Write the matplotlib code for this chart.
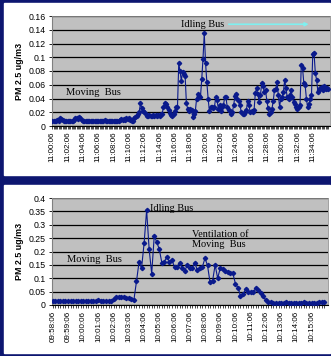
import numpy as np
import matplotlib
matplotlib.use("Agg")
import matplotlib.pyplot as plt

# PM 2.5 readings, one every 10 s
top_vals = [
    0.008, 0.008, 0.007, 0.008, 0.009, 0.008, 0.011, 0.010, 0.009, 0.008, 0.008, 0.008,
    0.007, 0.008, 0.008, 0.007, 0.008, 0.009, 0.011, 0.012, 0.010, 0.013, 0.011, 0.009,
    0.008, 0.008, 0.008, 0.007, 0.008, 0.008, 0.008, 0.007, 0.008, 0.008, 0.008, 0.007,
    0.008, 0.008, 0.008, 0.007, 0.008, 0.009, 0.008, 0.007, 0.008, 0.008, 0.008, 0.007,
    0.008, 0.008, 0.007, 0.008, 0.008, 0.009, 0.010, 0.009, 0.010, 0.009, 0.011, 0.010,
    0.011, 0.009, 0.008, 0.008, 0.011, 0.013, 0.015, 0.017, 0.020, 0.033, 0.026, 0.022,
    0.020, 0.018, 0.015, 0.014, 0.016, 0.015, 0.014, 0.016, 0.015, 0.016, 0.014, 0.016,
    0.015, 0.017, 0.018, 0.027, 0.033, 0.032, 0.028, 0.024, 0.019, 0.016, 0.015, 0.018,
    0.022, 0.028, 0.027, 0.091, 0.080, 0.066, 0.078, 0.076, 0.073, 0.033, 0.025, 0.022,
    0.025, 0.024, 0.013, 0.017, 0.022, 0.040, 0.046, 0.043, 0.042, 0.068, 0.098, 0.135,
    0.092, 0.064, 0.040, 0.022, 0.027, 0.027, 0.026, 0.028, 0.042, 0.038, 0.025, 0.030,
    0.022, 0.028, 0.030, 0.042, 0.042, 0.027, 0.024, 0.022, 0.018, 0.020, 0.030, 0.043,
    0.047, 0.040, 0.036, 0.030, 0.020, 0.017, 0.018, 0.020, 0.023, 0.037, 0.030, 0.020,
    0.022, 0.020, 0.023, 0.048, 0.055, 0.046, 0.035, 0.045, 0.062, 0.058, 0.050, 0.052,
    0.037, 0.026, 0.018, 0.020, 0.025, 0.036, 0.052, 0.054, 0.064, 0.045, 0.028, 0.040,
    0.042, 0.050, 0.067, 0.055, 0.042, 0.040, 0.045, 0.052, 0.042, 0.035, 0.032, 0.027,
    0.025, 0.027, 0.030, 0.089, 0.084, 0.062, 0.060, 0.040, 0.027, 0.032, 0.040, 0.045,
    0.105, 0.106, 0.077, 0.067, 0.050, 0.052, 0.055, 0.057, 0.053, 0.058, 0.054, 0.056,
    0.054,
]
top_labels = ["11:%02d:06" % m for m in range(0, 35, 2)]

bot_vals = [
    0.015, 0.016, 0.015, 0.015, 0.016, 0.015, 0.014, 0.015, 0.016, 0.016, 0.015, 0.016,
    0.015, 0.015, 0.014, 0.015, 0.015, 0.016, 0.018, 0.016, 0.015, 0.015, 0.015, 0.016,
    0.022, 0.030, 0.031, 0.029, 0.030, 0.028, 0.027, 0.021, 0.020, 0.088, 0.160, 0.138,
    0.230, 0.355, 0.208, 0.117, 0.258, 0.235, 0.208, 0.158, 0.162, 0.180, 0.162, 0.167,
    0.142, 0.143, 0.158, 0.140, 0.128, 0.148, 0.138, 0.140, 0.157, 0.130, 0.140, 0.143,
    0.175, 0.148, 0.085, 0.090, 0.150, 0.100, 0.137, 0.135, 0.127, 0.122, 0.120, 0.118,
    0.080, 0.065, 0.035, 0.040, 0.058, 0.050, 0.050, 0.048, 0.062, 0.055, 0.045, 0.032,
    0.018, 0.011, 0.010, 0.009, 0.009, 0.008, 0.008, 0.009, 0.010, 0.009, 0.008, 0.008,
    0.008, 0.009, 0.009, 0.010, 0.008, 0.008, 0.008, 0.009, 0.009, 0.011, 0.012, 0.010,
]
bot_labels = ["09:58:06", "09:59:06"] + ["10:%02d:06" % m for m in range(0, 16)]

navy = "#0d1670"
line_col = "#0a1a8c"
serif = "Liberation Serif"

fig = plt.figure(figsize=(3.31, 3.56), dpi=100, facecolor=navy)

# white panels behind the two charts
for y0, h in [(1 - 175 / 356, 172 / 356), (1 - 353 / 356, 168 / 356)]:
    fig.patches.append(plt.Rectangle((4 / 331, y0), 326 / 331, h,
                                     transform=fig.transFigure, color="white", zorder=-5))

ax1 = fig.add_axes([52 / 331, 1 - 126 / 356, 278 / 331, 110 / 356])
ax2 = fig.add_axes([52 / 331, 1 - 305 / 356, 276 / 331, 107 / 356])


def style(ax, vals, labels, step, ymax, ystep):
    x = np.arange(len(vals))
    ax.set_facecolor("#c0c0c0")
    ax.plot(x, vals, color=line_col, lw=0.8, marker="D", ms=2.2, zorder=3)
    ax.set_xlim(-0.3, len(vals) + 0.5)
    ax.set_ylim(0, ymax)
    yt = np.arange(0, ymax + ystep / 2, ystep)
    ax.set_yticks(yt)
    ax.set_yticklabels(["%g" % round(v, 3) for v in yt], fontsize=6.3,
                       family="Liberation Sans")
    ax.set_xticks(np.arange(0, len(labels) * step, step))
    ax.set_xticklabels(labels, rotation=90, fontsize=5.8, family="Liberation Sans")
    ax.set_xticks(x, minor=True)
    ax.tick_params(axis="x", which="both", length=2.5, width=0.5, pad=1.5)
    ax.tick_params(axis="y", length=2.5, width=0.6, pad=2)
    ax.grid(axis="y", color="black", lw=0.9)
    ax.set_axisbelow(True)
    for s in ["top", "right"]:
        ax.spines[s].set_color("#909090")
        ax.spines[s].set_linewidth(0.6)
    ax.spines["left"].set_color("#808080")
    ax.spines["bottom"].set_color("black")
    ax.set_ylabel("PM 2.5 ug/m3", fontsize=6.4, fontweight="bold",
                  family="Liberation Sans", labelpad=3)


style(ax1, top_vals, top_labels, 12, 0.16, 0.02)
style(ax2, bot_vals, bot_labels, 6, 0.4, 0.05)

ax1.text(101, 0.148, "Idling Bus", family=serif, fontsize=7.4, va="center", ha="left")
ax1.annotate("", xy=(203, 0.148), xytext=(136, 0.148),
             arrowprops=dict(arrowstyle="-|>", color="#7ff0f0", lw=1.2,
                             mutation_scale=5))
ax1.text(11, 0.049, "Moving  Bus", family=serif, fontsize=7.6, va="center", ha="left")

ax2.text(38.4, 0.362, "Idling Bus", family=serif, fontsize=7.4, va="center", ha="left")
ax2.text(54.7, 0.245, "Ventilation of\nMoving  Bus", family=serif, fontsize=7.4,
         va="center", ha="left", linespacing=1.15)
ax2.text(5.5, 0.169, "Moving  Bus", family=serif, fontsize=7.6, va="center", ha="left")

fig.savefig("out.png", dpi=100, facecolor=navy)
